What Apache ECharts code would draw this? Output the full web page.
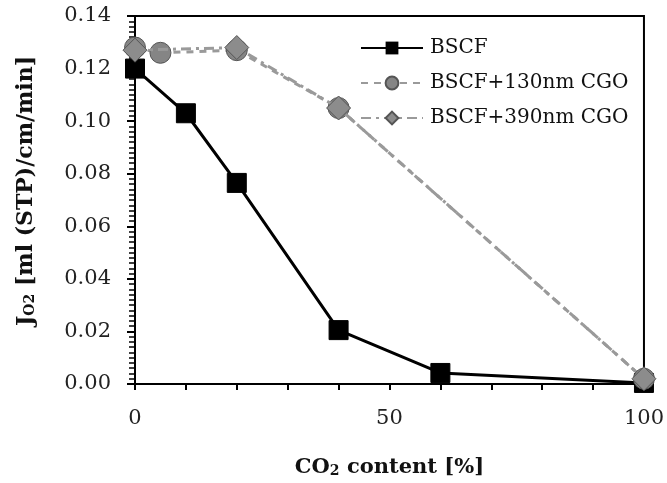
<!DOCTYPE html>
<html>
<head>
<meta charset="utf-8">
<script src="https://cdn.jsdelivr.net/npm/echarts@6/dist/echarts.min.js"></script>
<style>
  html, body { margin: 0; padding: 0; background: #fff; }
  #chart { width: 667px; height: 483px; }
</style>
</head>
<body>
<div id="chart"></div>
<script>
// CO2 content [%] and oxygen permeation flux for each membrane
const bscfX = [0, 10, 20, 40, 60, 100];
const bscfY = [0.120, 0.103, 0.0765, 0.0205, 0.0042, 0.0004];
const cgo130X = [0, 5, 20, 40, 100];
const cgo130Y = [0.128, 0.126, 0.127, 0.105, 0.002];
const cgo390X = [0, 20, 40, 100];
const cgo390Y = [0.127, 0.128, 0.105, 0.002];
const seriesNames = ['BSCF', 'BSCF+130nm CGO', 'BSCF+390nm CGO'];
const xLabels = [0, 50, 100];

const pairs = (xs, ys) => xs.map((x, i) => [x, ys[i]]);
const serif = '"DejaVu Serif", "Liberation Serif", serif';

const chart = echarts.init(document.getElementById('chart'));
chart.setOption({
  animation: false,
  backgroundColor: '#fff',
  textStyle: { fontFamily: serif },
  grid: {
    left: 135, right: 20, top: 16, bottom: 99,
    show: true, borderColor: '#000', borderWidth: 2
  },
  legend: {
    left: 355, top: 33,
    orient: 'vertical',
    itemWidth: 62, itemHeight: 16, itemGap: 15,
    textStyle: { fontFamily: serif, fontSize: 20, color: '#111', padding: [0, 0, 0, 2] },
    data: seriesNames
  },
  xAxis: {
    type: 'value', min: 0, max: 100, interval: 10,
    axisLine: { lineStyle: { color: '#000', width: 2 } },
    axisTick: { length: 6, lineStyle: { color: '#000', width: 2 } },
    splitLine: { show: false },
    axisLabel: {
      margin: 24, fontSize: 21, color: '#222', fontFamily: serif,
      formatter: v => (xLabels.indexOf(v) >= 0 ? String(v) : '')
    },
    name: '{a|CO}{s|2}{a| content [%]}',
    nameLocation: 'middle', nameGap: 68,
    nameTextStyle: {
      rich: {
        a: { fontFamily: serif, fontSize: 21, fontWeight: 'bold', color: '#111', lineHeight: 26, verticalAlign: 'bottom' },
        s: { fontFamily: serif, fontSize: 14, fontWeight: 'bold', color: '#111', lineHeight: 22, verticalAlign: 'bottom' }
      }
    }
  },
  yAxis: {
    type: 'value', min: 0, max: 0.14, interval: 0.02,
    axisLine: { show: true, lineStyle: { color: '#000', width: 2 } },
    axisTick: { show: true, length: 8, lineStyle: { color: '#000', width: 2 } },
    minorTick: { show: true, splitNumber: 10, length: 6, lineStyle: { color: '#000', width: 1.5 } },
    splitLine: { show: false },
    axisLabel: {
      margin: 24, fontSize: 21, color: '#222', fontFamily: serif,
      formatter: v => v.toFixed(2)
    },
    name: '{a|J}{s|O2}{a| [ml (STP)/cm/min]}',
    nameLocation: 'middle', nameGap: 98, nameRotate: 90,
    nameTextStyle: {
      padding: [0, 0, 0, 18],
      rich: {
        a: { fontFamily: serif, fontSize: 22, fontWeight: 'bold', color: '#111', lineHeight: 28, verticalAlign: 'bottom' },
        s: { fontFamily: serif, fontSize: 14, fontWeight: 'bold', color: '#111', lineHeight: 23, verticalAlign: 'bottom' }
      }
    }
  },
  series: [
    {
      name: seriesNames[0], type: 'line',
      data: pairs(bscfX, bscfY),
      symbol: 'rect', symbolSize: 19,
      itemStyle: { color: '#000', borderColor: '#000' },
      lineStyle: { color: '#000', width: 3 },
      z: 2
    },
    {
      name: seriesNames[1], type: 'line',
      data: pairs(cgo130X, cgo130Y),
      symbol: 'circle', symbolSize: 21,
      itemStyle: { color: '#858585', borderColor: '#555', borderWidth: 1 },
      lineStyle: { color: '#9a9a9a', width: 3, type: [7, 6] },
      z: 3
    },
    {
      name: seriesNames[2], type: 'line',
      data: pairs(cgo390X, cgo390Y),
      symbol: 'diamond', symbolSize: 24,
      itemStyle: { color: '#8c8c8c', borderColor: '#555', borderWidth: 1 },
      lineStyle: { color: '#9a9a9a', width: 3, type: [10, 5, 3, 5] },
      z: 4
    }
  ]
});
</script>
</body>
</html>
